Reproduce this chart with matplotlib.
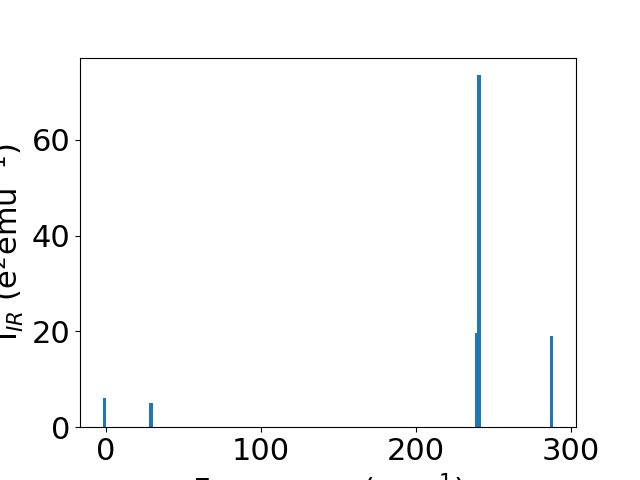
import matplotlib
matplotlib.use('Agg')
import matplotlib.pyplot as plt

# IR-active mode frequencies (cm^-1) and intensities
freqs = [-1.0, 29.2, 239.2, 240.6, 287.6]
intensities = [6.1, 5.1, 19.7, 73.5, 19.0]

plt.rcParams['font.size'] = 22

fig, ax = plt.subplots(figsize=(6.4, 4.8), dpi=100)
ax.bar(freqs, intensities, width=2.0, color='tab:blue')
ax.set_xlabel('Frequency (cm$^{-1}$)')
ax.set_ylabel('I$_{IR}$ (e$^2$emu$^{-1}$)')

fig.savefig('out.png', dpi=100)
